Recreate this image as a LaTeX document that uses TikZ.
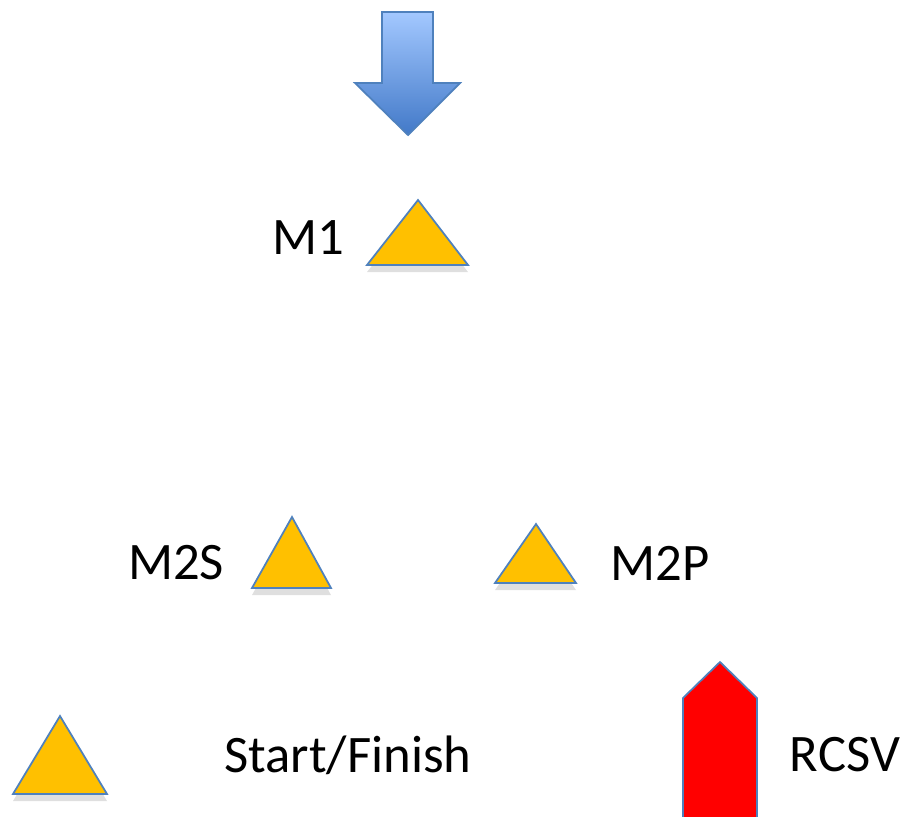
\documentclass[tikz,border=0pt]{standalone}
\usepackage{fontspec}
\setmainfont{Carlito}
\usepackage{xcolor}
\usetikzlibrary{shadows}

\definecolor{startfill}{HTML}{FFC000}
\definecolor{shapeline}{HTML}{4F81BD}
\definecolor{arrowtop}{HTML}{A3C8FF}
\definecolor{arrowbot}{HTML}{4279C8}

\tikzset{
  startmark/.style={fill=startfill, draw=shapeline, line width=1pt, line join=miter,
    drop shadow={shadow xshift=0pt, shadow yshift=-4pt, opacity=0.25}},
  label/.style={font=\fontsize{30}{36}\selectfont, inner sep=0pt, anchor=center}
}

\begin{document}
\begin{tikzpicture}[x=0.02cm, y=-0.02cm]
  \useasboundingbox (0,0) rectangle (906,816);
  % entry arrow (top)
  \draw[shapeline, line width=1pt, top color=arrowtop, bottom color=arrowbot]
    (382,12) -- (433,12) -- (433,83) -- (460,83) -- (408,135) -- (355,83) -- (382,83) -- cycle;
  % M1
  \draw[startmark] (418,200) -- (468,265) -- (367,265) -- cycle;
  \node[label] (m1) at (308,238) {M1};
  % M2S and M2P
  \draw[startmark] (292,517) -- (331,588) -- (252,588) -- cycle;
  \node[label] (m2s) at (176,563) {M2S};
  \draw[startmark] (536,524) -- (576,583) -- (495,583) -- cycle;
  \node[label] (m2p) at (660,563) {M2P};
  % legend
  \draw[startmark] (60,716) -- (107,794) -- (13,794) -- cycle;
  \node[label] (startlbl) at (348,755) {Start/Finish};
  \begin{scope}
    \clip (0,0) rectangle (906,816);
    \draw[fill=red, draw=shapeline, line width=1pt] (720,662) -- (757,698) -- (757,830) -- (683,830) -- (683,698) -- cycle;
  \end{scope}
  \node[label] (rcsvlbl) at (845,755) {RCSV};
\end{tikzpicture}
\end{document}
